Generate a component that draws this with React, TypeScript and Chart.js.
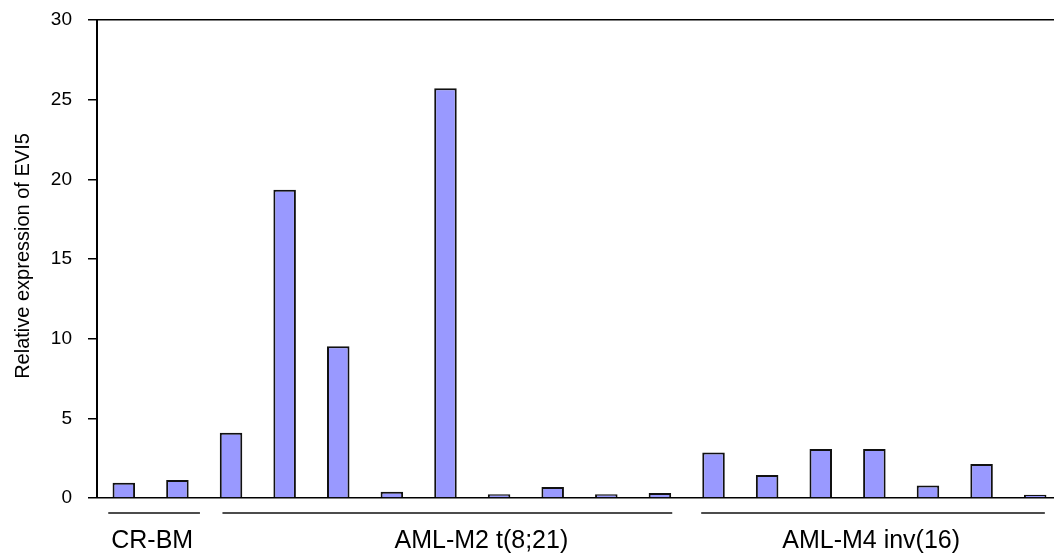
import { useEffect, useRef } from 'react';
import { Chart, registerables } from 'chart.js';

Chart.register(...registerables);

// Samples in plotting order
const samples = [
  'CR-BM 1', 'CR-BM 2',
  'M2-1', 'M2-2', 'M2-3', 'M2-4', 'M2-5', 'M2-6', 'M2-7', 'M2-8', 'M2-9',
  'M4-1', 'M4-2', 'M4-3', 'M4-4', 'M4-5', 'M4-6', 'M4-7',
];

// Relative expression of EVI5 per sample
const expression = [
  0.96, 1.13,
  4.1, 19.34, 9.52, 0.4, 25.72, 0.23, 0.69, 0.23, 0.31,
  2.86, 1.44, 3.08, 3.08, 0.79, 2.13, 0.2,
];

const yTicks = [0, 5, 10, 15, 20, 25, 30];
const yTitle = 'Relative expression of EVI5';

// Sample groups (index of first and last sample)
const groupNames = ['CR-BM', 'AML-M2 t(8;21)', 'AML-M4 inv(16)'];
const groupFirst = [0, 2, 11];
const groupLast = [1, 10, 17];

const FONT = '"Liberation Sans", Arial, sans-serif';

// Underline overhang before the first / after the last sample, and label centres (category units)
const lineLead = [0.29, 0.16, 0.23];
const lineTrail = [0.42, 0.23, 0.18];
const labelCenter = [0.53, 6.67, 13.94];

const annotations = {
  id: 'groupAnnotations',
  afterDraw(chart: any) {
    const { ctx, scales, chartArea } = chart;
    const x = scales.x;
    ctx.save();
    // group underlines and names
    ctx.strokeStyle = '#111';
    ctx.lineWidth = 1.6;
    ctx.fillStyle = '#000';
    ctx.font = `25px ${FONT}`;
    ctx.textAlign = 'center';
    ctx.textBaseline = 'alphabetic';
    groupNames.forEach((name, i) => {
      const x0 = x.getPixelForValue(groupFirst[i] - lineLead[i]);
      const x1 = x.getPixelForValue(groupLast[i] + lineTrail[i]);
      ctx.beginPath();
      ctx.moveTo(x0, chartArea.bottom + 15);
      ctx.lineTo(x1, chartArea.bottom + 15);
      ctx.stroke();
      ctx.fillText(name, x.getPixelForValue(labelCenter[i]), chartArea.bottom + 50);
    });
    // y axis title, centred on the plot height
    ctx.translate(29, (chartArea.top + chartArea.bottom) / 2 - 3);
    ctx.rotate(-Math.PI / 2);
    ctx.font = `20px ${FONT}`;
    ctx.fillText(yTitle, 0, 0);
    ctx.restore();
  },
};

export default function App() {
  const canvasRef = useRef<HTMLCanvasElement | null>(null);

  useEffect(() => {
    const canvas = canvasRef.current;
    if (!canvas) return;
    const chart = new Chart(canvas, {
      type: 'bar',
      data: {
        labels: samples,
        datasets: [
          {
            data: expression,
            backgroundColor: '#9999FF',
            borderColor: '#111',
            borderWidth: 2,
            barPercentage: 0.42,
            categoryPercentage: 1,
          },
        ],
      },
      options: {
        animation: false,
        responsive: true,
        maintainAspectRatio: false,
        layout: { padding: { top: 20, bottom: 55, left: 0, right: 0 } },
        plugins: {
          legend: { display: false },
          tooltip: { enabled: false },
        },
        scales: {
          x: { type: 'category', display: false },
          y: {
            min: 0,
            max: 30,
            afterFit: (s: any) => {
              s.width = 97;
              s.paddingTop = 0;
              s.paddingBottom = 0;
            },
            afterBuildTicks: (s: any) => {
              s.ticks = yTicks.map((v) => ({ value: v }));
            },
            ticks: {
              color: '#000',
              font: { family: FONT, size: 19 },
              padding: 16,
            },
            grid: {
              color: (c: any) =>
                c.tick && (c.tick.value === 0 || c.tick.value === 30) ? '#000' : 'rgba(0,0,0,0)',
              tickColor: '#000',
              tickLength: 9,
              lineWidth: 1.5,
              drawOnChartArea: true,
            },
            border: { color: '#000', width: 2 },
          },
        },
      },
      plugins: [annotations],
    });
    return () => chart.destroy();
  }, []);

  return (
    <div
      style={{
        position: 'absolute',
        left: 0,
        top: 0,
        width: 1054,
        height: 553,
        overflow: 'hidden',
        background: '#fff',
      }}
    >
      <div style={{ position: 'relative', width: 1062, height: 553 }}>
        <canvas ref={canvasRef} />
      </div>
    </div>
  );
}
